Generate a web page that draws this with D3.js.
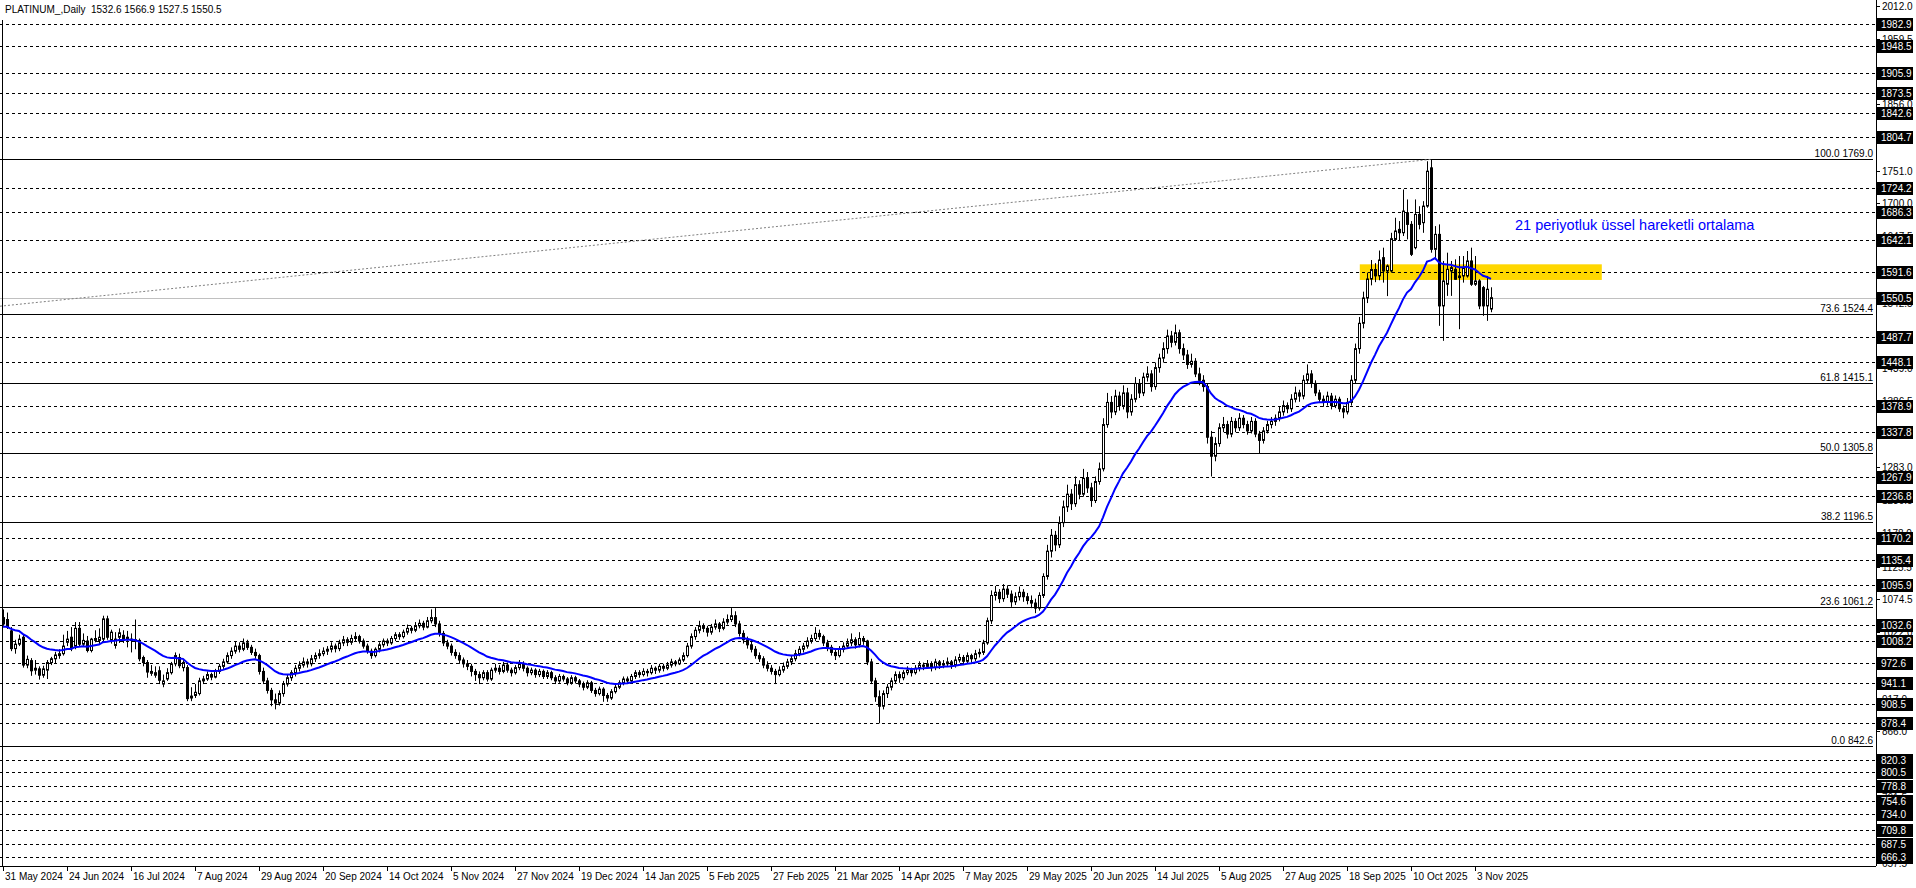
<!DOCTYPE html>
<html><head><meta charset="utf-8">
<script src="https://cdn.jsdelivr.net/npm/d3@7"></script>
<style>
html,body{margin:0;padding:0;background:#fff;overflow:hidden;}
svg{display:block;}
text{font-family:"Liberation Sans",Arial,sans-serif;white-space:pre;}
</style></head><body>
<svg id="chart" width="1916" height="888"></svg>
<script>
const titleText = "PLATINUM_,Daily  1532.6 1566.9 1527.5 1550.5";
const dateLabels = ["31 May 2024","24 Jun 2024","16 Jul 2024","7 Aug 2024","29 Aug 2024","20 Sep 2024","14 Oct 2024","5 Nov 2024","27 Nov 2024","19 Dec 2024","14 Jan 2025","5 Feb 2025","27 Feb 2025","21 Mar 2025","14 Apr 2025","7 May 2025","29 May 2025","20 Jun 2025","14 Jul 2025","5 Aug 2025","27 Aug 2025","18 Sep 2025","10 Oct 2025","3 Nov 2025"];

// bars 0-49
const headOpen=[1045,1042,1024,996,1003,1014,970,977,962,964,954,962,974,980,985,988,1006,1014,1000,1028,1003,1008,993,1009,1009,1011,1043,1009,1001,1014,1017,1011,1011,1010,1009,982,974,957,954,961,940,948,958,972,982,966,966,918,922,925];
const headHigh=[1058,1053,1030,1010,1018,1018,985,981,978,968,969,978,983,991,995,1018,1024,1030,1038,1038,1020,1016,1013,1025,1028,1048,1048,1026,1022,1028,1025,1024,1020,1042,1012,985,978,970,968,968,955,965,975,990,988,978,970,935,940,950];
const headLow=[1032,1027,992,988,1000,966,965,953,955,947,950,948,970,973,980,985,1000,992,995,1000,1000,990,990,1006,1003,1007,1010,1004,996,1005,1005,998,990,995,976,968,950,953,950,940,935,945,955,968,965,960,913,913,918,922];
const headClose=[1035,1030,996,1003,1011,970,979,961,965,954,964,974,980,986,988,1000,1011,996,1028,1003,1009,993,1011,1012,1014,1043,1014,1022,1011,1021,1009,1014,1009,1008,980,974,959,960,958,946,945,958,972,985,969,974,917,921,927,945];

// bars 50-344
const midOpen=[945,948,955,951,960,968,975,985,992,1000,
995,1005,998,990,985,960,945,930,915,910,
925,940,950,958,965,970,975,972,980,985,
988,992,995,1000,996,1005,1010,1006,1012,1015,
1008,1000,992,985,995,1002,1008,1005,1012,1018,
1015,1022,1028,1025,1032,1036,1030,1040,1045,1035,
1020,1005,1000,990,985,978,972,968,960,955,
950,958,948,962,965,960,970,962,958,966,
972,965,958,962,955,960,952,958,950,945,
952,948,942,950,945,940,935,942,930,925,
932,922,918,928,935,942,948,945,952,958,
955,960,958,965,962,968,965,970,975,972,
978,985,1000,1015,1025,1032,1028,1022,1030,1035,
1028,1038,1042,1048,1035,1020,1010,1002,995,985,
980,970,965,960,955,962,968,975,980,988,
995,1000,1008,1012,1020,1015,1005,998,990,985,
995,1000,1005,1010,1002,1012,1008,975,945,920,
905,925,935,945,955,950,958,962,958,965,
970,968,972,966,975,970,972,975,970,978,
982,976,985,980,988,990,1005,1040,1080,1085,
1075,1090,1082,1070,1078,1085,1078,1072,1068,1060,
1080,1110,1150,1175,1160,1195,1220,1240,1225,1255,
1240,1265,1250,1230,1260,1280,1350,1385,1370,1395,
1380,1400,1370,1390,1415,1400,1425,1430,1410,1440,
1455,1470,1490,1480,1495,1470,1460,1445,1450,1430,
1420,1410,1330,1300,1320,1345,1350,1335,1355,1345,
1360,1350,1340,1355,1335,1325,1340,1350,1355,1360,
1370,1380,1375,1390,1400,1395,1420,1430,1415,1400,
1390,1385,1395,1380,1390,1375,1370,1385,1420,1470,
1510,1550,1580,1595,1585];
const midHigh=[953,960,958,964,972,980,990,998,1008,1006,
1012,1010,1002,996,988,966,950,934,925,930,
945,955,962,970,976,982,980,986,990,995,
998,1000,1006,1004,1010,1016,1014,1018,1022,1018,
1012,1004,996,998,1006,1012,1012,1016,1022,1022,
1026,1034,1032,1038,1042,1040,1046,1058,1060,1040,
1024,1010,1004,995,990,982,978,972,964,960,
962,962,966,972,970,975,974,966,970,978,
976,968,966,965,964,963,962,961,954,956,
955,951,954,953,948,944,946,945,934,936,
935,926,932,940,946,952,952,956,962,962,
965,964,970,968,972,972,975,980,978,982,
990,1005,1020,1030,1040,1036,1032,1035,1042,1038,
1044,1050,1060,1055,1040,1025,1015,1008,1000,990,
984,976,970,964,968,974,980,986,994,1000,
1005,1014,1018,1030,1026,1018,1010,1002,994,1000,
1006,1012,1020,1014,1022,1016,1010,980,950,930,
930,940,950,960,960,962,968,966,970,976,
974,978,976,980,978,978,982,978,984,988,
986,990,988,994,996,1010,1045,1088,1095,1090,
1098,1096,1088,1085,1094,1090,1084,1080,1075,1085,
1115,1160,1185,1182,1205,1230,1255,1248,1268,1262,
1280,1275,1258,1268,1290,1360,1400,1395,1405,1402,
1412,1408,1398,1425,1422,1432,1442,1436,1448,1462,
1480,1500,1498,1508,1500,1478,1468,1462,1455,1440,
1428,1415,1340,1330,1352,1362,1356,1362,1360,1368,
1365,1356,1362,1360,1340,1346,1356,1362,1366,1378,
1388,1385,1398,1410,1405,1428,1445,1436,1420,1405,
1396,1402,1400,1396,1394,1380,1392,1428,1478,1520,
1560,1590,1610,1605,1625];
const midLow=[940,945,946,949,956,964,972,980,988,990,
992,994,986,980,955,940,925,905,900,906,
920,936,945,952,960,966,966,968,975,980,
984,986,990,990,992,1000,1000,1002,1008,1004,
996,988,980,982,990,998,1000,1002,1008,1010,
1012,1018,1020,1022,1028,1025,1028,1036,1030,1015,
1000,995,985,980,972,966,962,952,945,940,
946,944,945,958,955,957,958,952,955,962,
960,952,954,950,951,948,948,946,940,942,
944,938,939,941,935,930,932,926,920,922,
912,912,915,925,932,938,940,942,948,950,
952,952,955,956,958,960,962,966,968,970,
975,982,996,1010,1020,1022,1015,1018,1026,1022,
1025,1034,1038,1030,1015,1004,996,990,980,975,
965,960,955,940,952,958,964,970,976,984,
990,996,1004,1008,1010,1000,992,985,978,982,
990,996,1000,996,998,1002,970,940,912,878,
900,918,930,940,942,946,954,952,955,960,
962,964,960,962,964,965,968,964,966,974,
970,972,974,976,982,986,1002,1035,1072,1068,
1070,1076,1062,1065,1072,1070,1066,1060,1052,1056,
1076,1105,1140,1150,1155,1188,1212,1215,1220,1232,
1236,1242,1220,1226,1255,1276,1345,1360,1365,1372,
1374,1360,1364,1385,1392,1395,1418,1402,1405,1432,
1448,1462,1472,1475,1462,1452,1438,1440,1425,1412,
1402,1320,1268,1292,1315,1338,1328,1330,1338,1340,
1344,1334,1336,1330,1305,1320,1336,1344,1348,1355,
1364,1368,1370,1385,1386,1390,1414,1408,1395,1384,
1378,1380,1374,1376,1370,1360,1366,1380,1415,1462,
1502,1542,1570,1575,1578];
const midClose=[948,955,951,960,968,975,985,992,1000,995,
1005,998,990,985,960,945,930,915,910,925,
940,950,958,965,970,975,972,980,985,988,
992,995,1000,996,1005,1010,1006,1012,1015,1008,
1000,992,985,995,1002,1008,1005,1012,1018,1015,
1022,1028,1025,1032,1036,1030,1040,1045,1035,1020,
1005,1000,990,985,978,972,968,960,955,950,
958,948,962,965,960,970,962,958,966,972,
965,958,962,955,960,952,958,950,945,952,
948,942,950,945,940,935,942,930,925,932,
922,918,928,935,942,948,945,952,958,955,
960,958,965,962,968,965,970,975,972,978,
985,1000,1015,1025,1032,1028,1022,1030,1035,1028,
1038,1042,1048,1035,1020,1010,1002,995,985,980,
970,965,960,955,962,968,975,980,988,995,
1000,1008,1012,1020,1015,1005,998,990,985,995,
1000,1005,1010,1002,1012,1008,975,945,920,905,
925,935,945,955,950,958,962,958,965,970,
968,972,966,975,970,972,975,970,978,982,
976,985,980,988,990,1005,1040,1080,1085,1075,
1090,1082,1070,1078,1085,1078,1072,1068,1060,1080,
1110,1150,1175,1160,1195,1220,1240,1225,1255,1240,
1265,1250,1230,1260,1280,1350,1385,1370,1395,1380,
1400,1370,1390,1415,1400,1425,1430,1410,1440,1455,
1470,1490,1480,1495,1470,1460,1445,1450,1430,1420,
1410,1330,1300,1320,1345,1350,1335,1355,1345,1360,
1350,1340,1355,1335,1325,1340,1350,1355,1360,1370,
1380,1375,1390,1400,1395,1420,1430,1415,1400,1390,
1385,1395,1380,1390,1375,1370,1385,1420,1470,1510,
1550,1580,1595,1585,1610];

// bars 345-372
const tailOpen=[1613.7,1592.7,1592.7,1642.6,1658.4,1653.1,1684.7,1666.3,1629.5,1682,1669,1695.2,1755.6,1626.9,1650.5,1537.5,1571.7,1592.7,1595.3,1584.8,1584.8,1584.8,1608.5,1571.7,1576.9,1566.4,1537.5,1532.6];
const tailHigh=[1629.5,1603,1653,1676.8,1671.5,1721.4,1705.7,1671.5,1705.7,1695,1703,1766,1769,1663.6,1666.3,1608.5,1621.6,1608.5,1611.1,1616.3,1616.3,1624.2,1629.5,1616.3,1579.6,1569.1,1584.8,1566.9];
const tailLow=[1574.3,1553,1590,1640,1640,1647.9,1642.6,1616.3,1626.9,1658.4,1653,1692.6,1621.6,1611.1,1506,1482.3,1553.3,1553.3,1579,1500.7,1574.3,1582.2,1569.1,1569.1,1532.3,1521.8,1513.9,1527.5];
const tailClose=[1592.7,1600.6,1643.7,1655.8,1653.1,1687.3,1666.3,1619,1682,1666.3,1695.2,1750.3,1626.9,1650.5,1537.5,1576.9,1595.3,1598,1579.6,1582.2,1598,1608.5,1571.7,1576.9,1537.5,1537.5,1563.8,1550.5];

const open = headOpen.concat(midOpen, tailOpen);
const high = headHigh.concat(midHigh, tailHigh);
const low = headLow.concat(midLow, tailLow);
const close = headClose.concat(midClose, tailClose);

const levelPrices=[1982.9,1948.5,1905.9,1873.5,1842.6,1804.7,1724.2,1686.3,1642.1,1591.6,1487.7,1448.1,1378.9,1337.8,1267.9,1236.8,1170.2,1135.4,1095.9,1032.6,1008.2,972.6,941.1,908.5,878.4,820.3,800.5,778.8,754.6,734.0,709.8,687.5,666.3];
const fibRatios=["0.0","23.6","38.2","50.0","61.8","73.6","100.0"];
const fibPrices=[842.6,1061.2,1196.5,1305.8,1415.1,1524.4,1769.0];
const axisTicks=[2012.0,1959.5,1907.5,1856.0,1803.5,1751.0,1700.0,1647.5,1595.0,1542.5,1491.0,1439.0,1386.5,1334.0,1283.0,1230.5,1178.0,1125.5,1074.5,1022.0,969.5,917.0,866.0,813.5,761.5,709.5,657.5];
const currentPrice=1550.5;
const emaPeriod=21, emaSeed=1030;
const zonePrices=[1578.5,1603.2], zoneBars=[339.2,399.7];
const trendBars=[-0.75,357], trendPrices=[1537,1769.0];
const emaLabel="21 periyotluk üssel hareketli ortalama", emaLabelBar=378, emaLabelPrice=1657;

const axisX=1876, bottomY=866;
const svg=d3.select("#chart");
const x=d3.scaleLinear().domain([0,1]).range([3,7]);
const y=d3.scaleLinear().domain([666.3,1982.9]).range([857.3,24]);

svg.append("rect").attr("x",x(zoneBars[0])).attr("width",x(zoneBars[1])-x(zoneBars[0]))
  .attr("y",y(zonePrices[1])).attr("height",y(zonePrices[0])-y(zonePrices[1])).attr("fill","#FFD700");

svg.append("g").selectAll("line").data(levelPrices).join("line")
  .attr("x1",0).attr("x2",axisX).attr("y1",d=>Math.round(y(d))+0.5).attr("y2",d=>Math.round(y(d))+0.5)
  .attr("stroke","#000").attr("stroke-width",1).attr("stroke-dasharray","3,3");
svg.append("line").attr("x1",0).attr("x2",axisX).attr("y1",Math.round(y(currentPrice))+0.5).attr("y2",Math.round(y(currentPrice))+0.5)
  .attr("stroke","#c0c0c0").attr("stroke-width",1);
const fg=svg.append("g");
fg.selectAll("line").data(fibPrices).join("line")
  .attr("x1",0).attr("x2",axisX-3).attr("y1",d=>Math.round(y(d))+0.5).attr("y2",d=>Math.round(y(d))+0.5)
  .attr("stroke","#000").attr("stroke-width",1);
fg.selectAll("text").data(fibPrices).join("text")
  .attr("x",axisX-3).attr("y",d=>Math.round(y(d))-2).attr("text-anchor","end")
  .attr("font-size","10px").attr("fill","#000").text((d,i)=>fibRatios[i]+" "+d.toFixed(1));
svg.append("line").attr("x1",x(trendBars[0])).attr("y1",y(trendPrices[0])).attr("x2",x(trendBars[1])).attr("y2",y(trendPrices[1]))
  .attr("stroke","#808080").attr("stroke-width",1).attr("stroke-dasharray","2,2");

const idx=d3.range(close.length);
const cg=svg.append("g");
cg.selectAll("line").data(idx).join("line")
  .attr("x1",i=>Math.round(x(i))+0.5).attr("x2",i=>Math.round(x(i))+0.5)
  .attr("y1",i=>y(high[i])).attr("y2",i=>y(low[i])).attr("stroke","#000").attr("stroke-width",1);
cg.selectAll("rect").data(idx).join("rect")
  .attr("x",i=>Math.round(x(i))-1+0.5).attr("width",2)
  .attr("y",i=>y(Math.max(open[i],close[i])))
  .attr("height",i=>Math.max(1,Math.abs(y(open[i])-y(close[i]))))
  .attr("fill",i=>close[i]>=open[i]?"#fff":"#000").attr("stroke","#000").attr("stroke-width",1);

// 21-period exponential moving average of the closes
const k=2/(emaPeriod+1); let e=emaSeed; const ema=close.map(c=>(e=e+k*(c-e)));
svg.append("path").datum(ema).attr("d",d3.line().x((d,i)=>x(i)).y(d=>y(d)))
  .attr("fill","none").attr("stroke","#0000ff").attr("stroke-width",2);

svg.append("text").attr("x",x(emaLabelBar)).attr("y",y(emaLabelPrice)).attr("fill","#0000ff")
  .attr("font-size","14.5px").text(emaLabel);

svg.append("line").attr("x1",axisX+0.5).attr("x2",axisX+0.5).attr("y1",0).attr("y2",bottomY).attr("stroke","#000");
svg.append("line").attr("x1",0).attr("x2",axisX).attr("y1",bottomY+0.5).attr("y2",bottomY+0.5).attr("stroke","#000");
svg.append("line").attr("x1",2.5).attr("x2",2.5).attr("y1",20).attr("y2",bottomY).attr("stroke","#000");

const ag=svg.append("g");
ag.selectAll("line").data(axisTicks).join("line").attr("x1",axisX).attr("x2",axisX+4)
  .attr("y1",d=>Math.round(y(d))+0.5).attr("y2",d=>Math.round(y(d))+0.5).attr("stroke","#000");
ag.selectAll("text").data(axisTicks).join("text").attr("x",axisX+6).attr("y",d=>y(d)+4)
  .attr("font-size","10px").attr("fill","#000").text(d=>d.toFixed(1));
const boxes=levelPrices.concat([currentPrice]);
const bg=svg.append("g");
bg.selectAll("rect").data(boxes).join("rect").attr("x",axisX+1).attr("width",36)
  .attr("y",d=>Math.round(y(d))-6).attr("height",13).attr("fill","#000");
bg.selectAll("text").data(boxes).join("text").attr("x",axisX+5).attr("y",d=>Math.round(y(d))+4)
  .attr("font-size","10px").attr("fill","#fff").text(d=>d.toFixed(1));

const tickBars=dateLabels.map((d,i)=>i*16);
const bx=svg.append("g");
bx.selectAll("line").data(tickBars).join("line").attr("x1",i=>Math.round(x(i))+0.5).attr("x2",i=>Math.round(x(i))+0.5)
  .attr("y1",bottomY).attr("y2",bottomY+5).attr("stroke","#000");
bx.selectAll("text").data(tickBars).join("text").attr("x",i=>Math.round(x(i))+2).attr("y",bottomY+14)
  .attr("font-size","10px").attr("fill","#000").text((d,i)=>dateLabels[i]);

svg.append("text").attr("x",5).attr("y",13).attr("font-size","10px").attr("fill","#000").text(titleText);
</script></body></html>
